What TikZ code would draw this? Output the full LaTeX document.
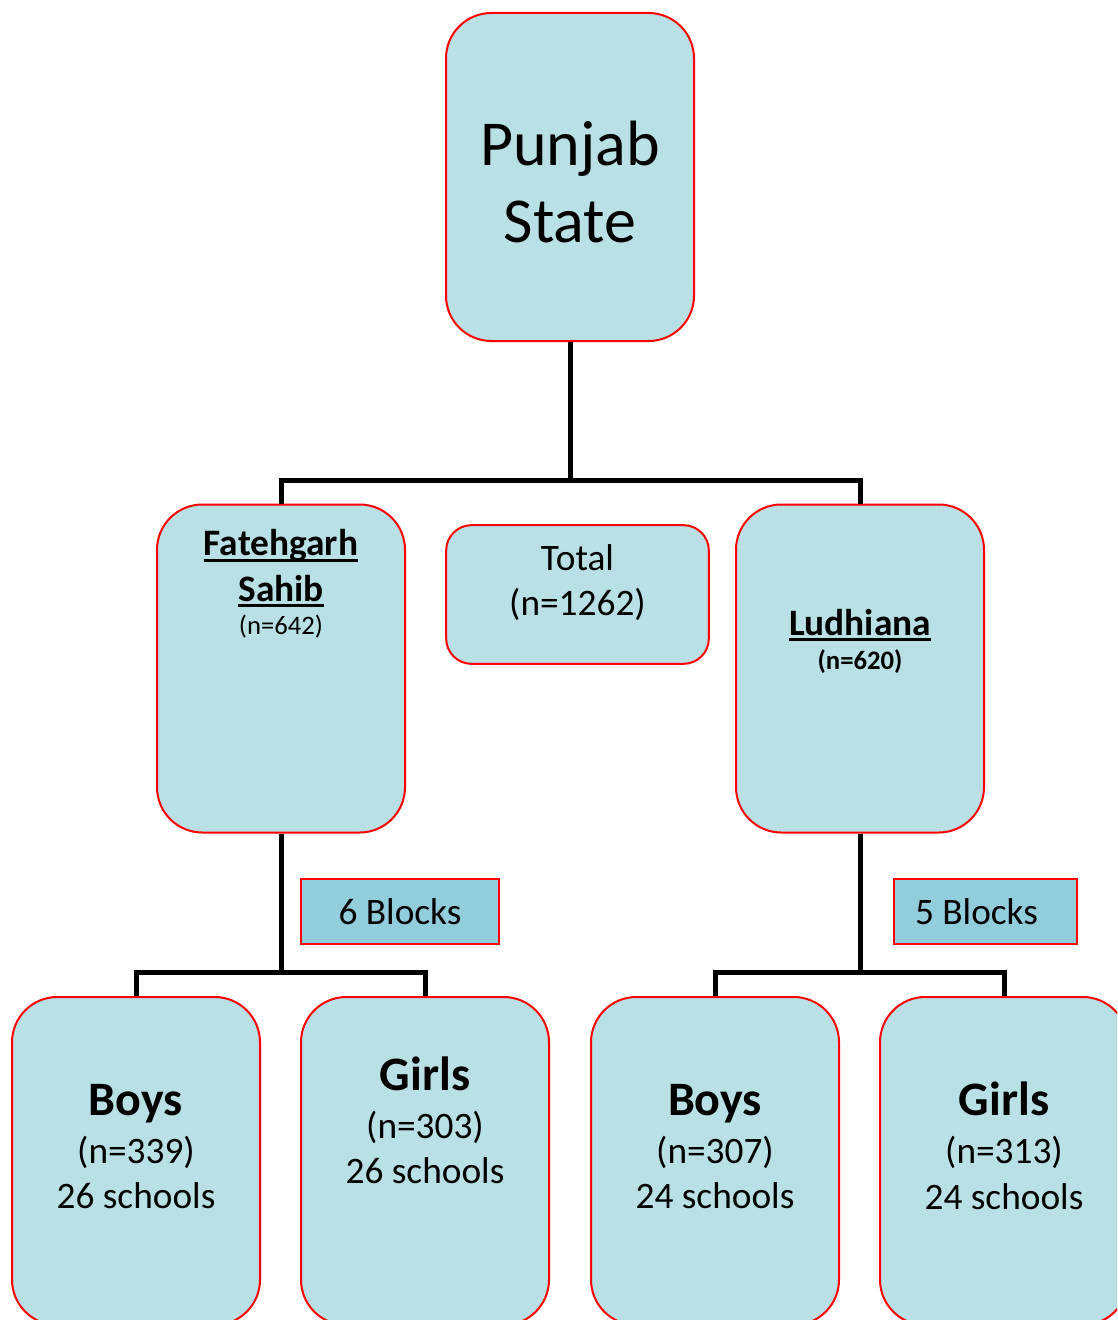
\documentclass[tikz,border=0pt]{standalone}
\usepackage{fontspec}
\setmainfont{Carlito}
\usetikzlibrary{positioning}

\definecolor{boxfill}{HTML}{B9E0E4}
\definecolor{blockfill}{HTML}{92CDDC}

% thick underline as in the original chart
\newcommand{\ulined}[1]{\setbox0\hbox{#1}\rlap{\rule[-4.5pt]{\wd0}{2.2pt}}\box0}

\tikzset{
    box/.style={draw=red,fill=boxfill,line width=1.5pt,rounded corners=34pt,
        minimum width=186pt,minimum height=246pt,inner sep=0pt},
    blk/.style={draw=red,fill=blockfill,line width=1.5pt,minimum height=49pt,
        inner sep=0pt,font=\fontsize{28}{34}\selectfont},
    txt/.style={inner sep=0pt,align=center,font=\fontsize{28}{34}\selectfont},
    link/.style={line width=3.75pt}
}

\begin{document}
\begin{tikzpicture}[x=0.75pt,y=-0.75pt]
    \useasboundingbox (0,0) rectangle (1117,1320);
    \clip (0,0) rectangle (1117,1320);

    % top level
    \node [box] (punjab) at (570,177) {};
    \node [txt,font=\fontsize{48}{58}\selectfont,below=81.5pt of punjab.north] (punjabtxt) {Punjab\\State};

    % districts
    \node [box] (fat) at (281,668.5) {};
    \node [box] (lud) at (860,668.5) {};
    \node [box,minimum width=197pt,minimum height=104pt,rounded corners=19pt] (total) at (577.5,594.5) {};

    \node [txt,below=19.5pt of fat.north] (fattxt) {\textbf{\ulined{Fatehgarh}}\\\textbf{\ulined{Sahib}}\\[-9pt]{\fontsize{20}{24}\selectfont (n=642)}};
    \node [txt,below=15pt of total.north] (totaltxt) {Total\\(n=1262)};
    \node [txt,below=79pt of lud.north] (ludtxt) {\textbf{\ulined{Ludhiana}}\\[-8pt]{\fontsize{20}{24}\selectfont\bfseries (n=620)}};

    % blocks
    \node [blk,minimum width=148.5pt] (blk6) at (400,911.5) {6 Blocks};
    \node [blk,minimum width=137pt] (blk5) at (985.5,911.5) {5 Blocks\hspace{13.5pt}\mbox{}};

    % schools
    \node [box] (boys1) at (136,1161) {};
    \node [box] (girls1) at (425,1161) {};
    \node [box] (boys2) at (715,1161) {};
    \node [box] (girls2) at (1004,1161) {};

    \node [txt,below=66pt of boys1.north] (boys1txt) {{\fontsize{36}{43}\selectfont\bfseries Boys}\\[2pt](n=339)\\26 schools};
    \node [txt,below=45.5pt of girls1.north] (girls1txt) {{\fontsize{36}{43}\selectfont\bfseries Girls}\\[2pt](n=303)\\26 schools};
    \node [txt,below=66pt of boys2.north] (boys2txt) {{\fontsize{36}{43}\selectfont\bfseries Boys}\\[2pt](n=307)\\24 schools};
    \node [txt,below=64.5pt of girls2.north] (girls2txt) {{\fontsize{36}{43}\selectfont\bfseries Girls}\\[2pt](n=313)\\24 schools};

    % connectors
    \coordinate (split1) at (570,480);
    \coordinate (split2) at (281,972);
    \coordinate (split3) at (860,972);
    \draw [link] (punjab.south) -- (split1);
    \draw [link] (fat.north) |- (split1) -| (lud.north);
    \draw [link] (fat.south) -- (split2);
    \draw [link] (boys1.north) |- (split2) -| (girls1.north);
    \draw [link] (lud.south) -- (split3);
    \draw [link] (boys2.north) |- (split3) -| (girls2.north);
\end{tikzpicture}
\end{document}
